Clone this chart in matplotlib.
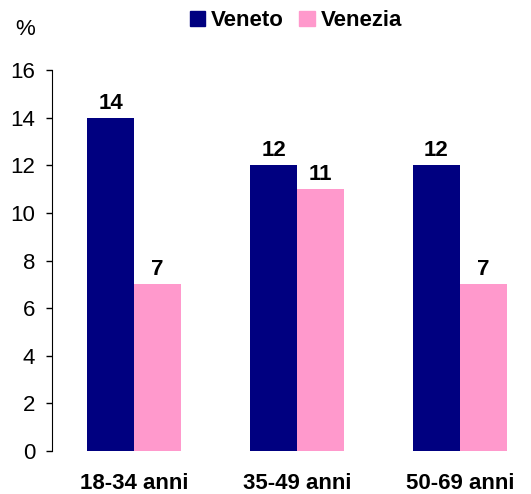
import numpy as np
import matplotlib
matplotlib.use('Agg')
import matplotlib.pyplot as plt
from matplotlib.patches import Patch

# values
categories = ['18-34 anni', '35-49 anni', '50-69 anni']
veneto = [14, 12, 12]
venezia = [7, 11, 7]
yticks = [0, 2, 4, 6, 8, 10, 12, 14, 16]

plt.rcParams['font.family'] = ['Liberation Sans', 'DejaVu Sans']

fig = plt.figure(figsize=(5.31, 4.94), dpi=100)
ax = fig.add_axes([0.098, 0.087, 0.902, 0.771])

x = np.arange(len(categories))
w = 0.288
b1 = ax.bar(x - w/2, veneto, w, color='#000080', label='Veneto')
b2 = ax.bar(x + w/2, venezia, w, color='#FF99CC', label='Venezia')

for bars in (b1, b2):
    for r in bars:
        ax.annotate(f'{r.get_height():g}', (r.get_x() + r.get_width()/2, r.get_height()),
                    xytext=(0, 3), textcoords='offset points', ha='center', va='bottom',
                    fontsize=16, fontweight='bold')

ax.set_xlim(-0.503, 2.436)
ax.set_ylim(0, 16)
ax.set_yticks(yticks)
ax.tick_params(axis='y', labelsize=16, length=4, width=1, pad=8)
ax.set_xticks(x)
ax.set_xticklabels(categories, fontsize=16, fontweight='bold')
ax.tick_params(axis='x', length=0, pad=16)
for s in ['top', 'right', 'bottom']:
    ax.spines[s].set_visible(False)

fig.text(0.047, 0.94, '%', fontsize=16, ha='center', va='center')

handles = [Patch(color='#000080', label='Veneto'), Patch(color='#FF99CC', label='Venezia')]
fig.legend(handles=handles, loc='center', bbox_to_anchor=(0.557, 0.958), ncol=2, frameon=False,
           prop={'size': 16, 'weight': 'bold'}, handlelength=0.7, handleheight=0.7,
           handletextpad=0.25, columnspacing=0.7)

fig.savefig('out.png', dpi=100)
